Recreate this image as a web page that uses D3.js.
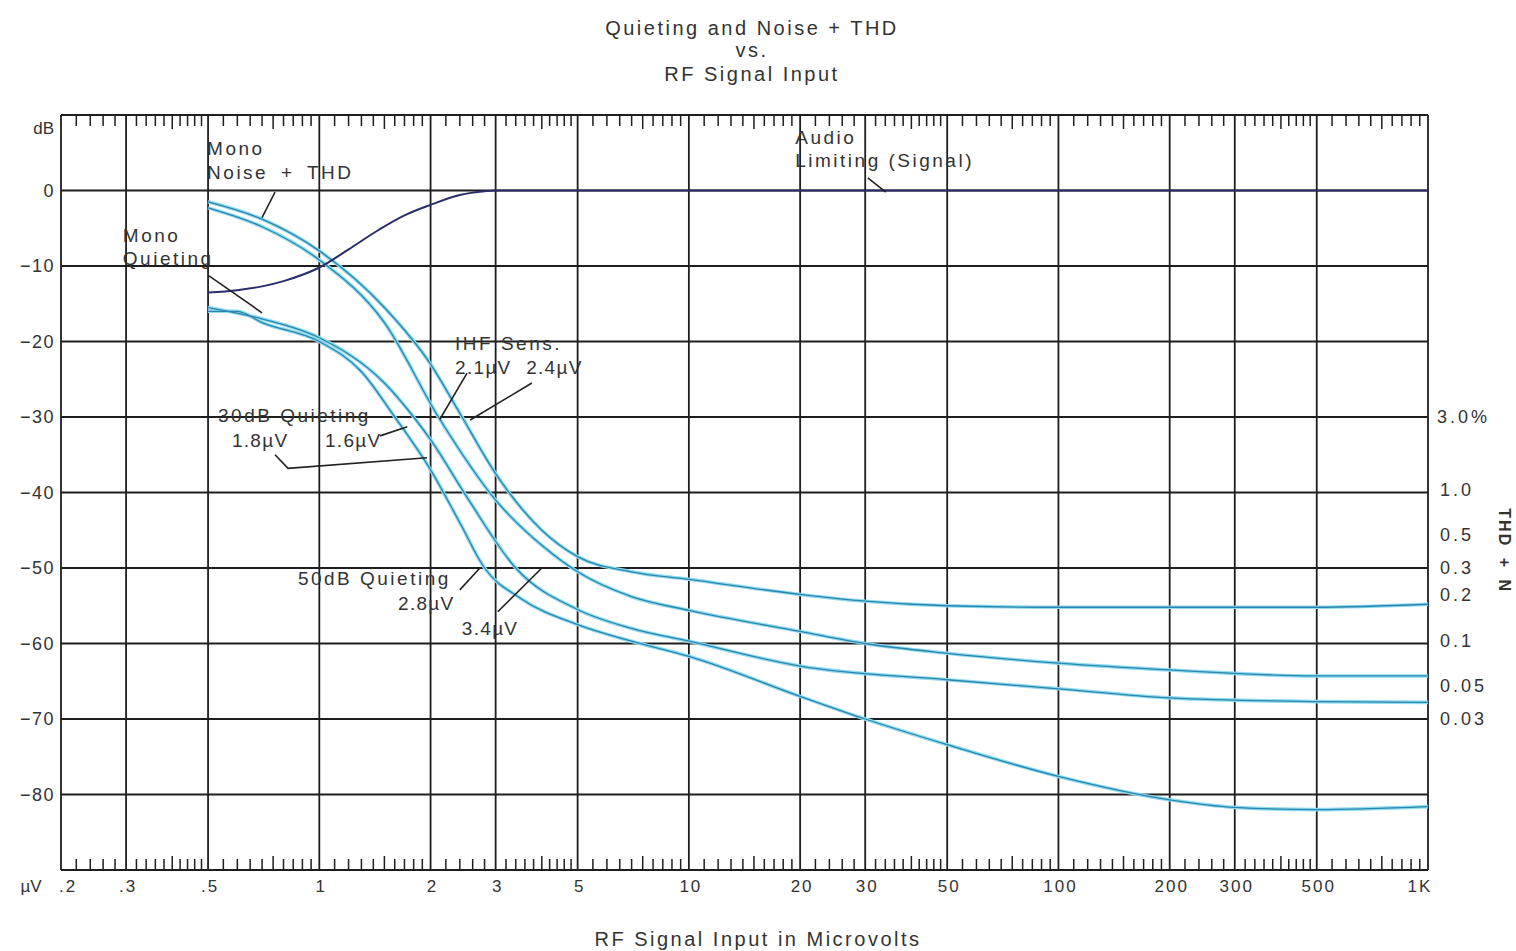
<!DOCTYPE html>
<html>
<head>
<meta charset="utf-8">
<script src="https://cdn.jsdelivr.net/npm/d3@7"></script>
<style>
  html, body { margin: 0; padding: 0; background: #fff; }
  svg text { font-family: "Liberation Sans", Arial, Helvetica, sans-serif; fill: #333; white-space: pre; }
</style>
</head>
<body>
<svg id="chart" width="1516" height="951"></svg>
<script>
// ---------------- DATA ----------------
const xTicks = [0.2, 0.3, 0.5, 1, 2, 3, 5, 10, 20, 30, 50, 100, 200, 300, 500, 1000];
const xTickLabels = [".2", ".3", ".5", "1", "2", "3", "5", "10", "20", "30", "50", "100", "200", "300", "500", "1K"];
const yTicks = [0, -10, -20, -30, -40, -50, -60, -70, -80];
const yTickLabels = ["0", "-10", "-20", "-30", "-40", "-50", "-60", "-70", "-80"];
const thdTicks = [3.0, 1.0, 0.5, 0.3, 0.2, 0.1, 0.05, 0.03];
const thdTickLabels = ["3.0%", "1.0", "0.5", "0.3", "0.2", "0.1", "0.05", "0.03"];

// [µV, dB]
const audioLimiting = [[0.5,-13.5],[0.6,-13.2],[0.7,-12.7],[0.8,-12],[1,-10.2],[1.2,-7.8],[1.45,-5.2],[1.7,-3.3],[2,-1.9],[2.4,-0.6],[2.8,-0.1],[3,0],[10,0],[100,0],[1000,0]];
const noiseTHD_A = [[0.5,-1.5],[0.7,-3.8],[1,-8],[1.5,-15.5],[2,-23],[2.4,-29.5],[3,-37.5],[4,-45],[5,-48.5],[7,-50.5],[10,-51.5],[20,-53.5],[30,-54.4],[50,-55],[100,-55.2],[500,-55.2],[1000,-54.8]];
const noiseTHD_B = [[0.5,-2.3],[0.7,-4.8],[1,-9.2],[1.5,-17.5],[2.1,-30],[3,-41],[4,-47],[5,-50.5],[7,-53.8],[10,-55.6],[20,-58.4],[30,-60],[50,-61.3],[100,-62.6],[200,-63.5],[500,-64.3],[1000,-64.3]];
const quieting_C = [[0.5,-15.5],[0.7,-17],[1,-19.5],[1.5,-25.5],[1.8,-30],[2,-33],[2.5,-40.5],[3.4,-50],[5,-55.5],[7,-58],[10,-59.7],[20,-63],[50,-64.8],[100,-66],[200,-67.2],[500,-67.7],[1000,-67.8]];
const quieting_D = [[0.5,-16],[0.6,-16],[0.7,-17.5],[1,-20],[1.3,-24],[1.6,-30],[2,-37],[2.4,-44],[2.8,-50],[3.5,-54],[5,-57.5],[7,-59.7],[10,-61.7],[20,-67],[30,-70],[50,-73.4],[100,-77.6],[200,-80.7],[300,-81.7],[500,-82],[1000,-81.6]];

// annotation texts: [µV, dB, text]
const annotTexts = [
  [0.497, 4.7, "Mono"], [0.497, 1.5, "Noise + THD"],
  [0.294, -6.8, "Mono"], [0.294, -9.9, "Quieting"],
  [19.4, 6.2, "Audio"], [19.4, 3.1, "Limiting (Signal)"],
  [2.33, -21.1, "IHF Sens."], [2.33, -24.3, "2.1µV 2.4µV"],
  [0.532, -30.7, "30dB Quieting"], [0.58, -34.0, "1.8µV"], [1.036, -34.0, "1.6µV"],
  [0.875, -52.3, "50dB Quieting"], [1.633, -55.6, "2.8µV"], [2.43, -58.9, "3.4µV"]
];
// annotation pointer polylines: [[µV, dB], ...]
const annotPointers = [
  [[0.759,-0.2],[0.70,-3.6]],
  [[0.503,-11.3],[0.70,-16.2]],
  [[30.5,1.66],[34.1,-0.2]],
  [[2.51,-24.2],[2.12,-30.3]],
  [[3.76,-25.5],[2.56,-30.4]],
  [[1.46,-32.5],[1.73,-31.3]],
  [[0.759,-35.0],[0.823,-36.8],[1.956,-35.4]],
  [[2.40,-52.9],[2.72,-50.0]],
  [[3.04,-55.8],[4.0,-50.0]]
];

// ---------------- CHART ----------------
const svg = d3.select("#chart");
const L = 61, R = 1428, T = 115, B = 870;
const x = d3.scaleLog().domain([0.2, 1000]).range([L, R]);
const y = d3.scaleLinear().domain([10, -90]).range([T, B]);
const yThd = p => y(20 * Math.log10(p / 100));

const ink = "#1e1e1e";

// Title
const title = svg.append("g").attr("text-anchor", "middle").style("font-size", "20px").style("letter-spacing", "2.5px");
title.append("text").attr("x", 752).attr("y", 35).text("Quieting and Noise + THD");
title.append("text").attr("x", 752).attr("y", 57).text("vs.");
title.append("text").attr("x", 752).attr("y", 81).text("RF Signal Input");

// Grid
const grid = svg.append("g");
grid.selectAll("line.v").data(xTicks).join("line")
  .attr("x1", d => x(d)).attr("x2", d => x(d)).attr("y1", T).attr("y2", B)
  .attr("stroke", ink).attr("stroke-width", 1.8);
grid.selectAll("line.h").data([10, ...yTicks, -90]).join("line")
  .attr("class", "h")
  .attr("x1", L).attr("x2", R).attr("y1", d => y(d)).attr("y2", d => y(d))
  .attr("stroke", ink).attr("stroke-width", 1.8);

// Ruler minor ticks (top & bottom)
const minor = [];
[0.1, 1, 10, 100].forEach(b => {
  for (let k = 1.1; k < 1.95; k += 0.1) minor.push([b * k, Math.abs(k - 1.5) < 0.01]);
  for (let k = 2.2; k < 2.9; k += 0.2) minor.push([b * k, false]);
  for (let k = 3.2; k < 4.9; k += 0.2) minor.push([b * k, Math.abs(k - 4) < 0.01]);
  for (let k = 5.5; k < 9.6; k += 0.5) minor.push([b * k, Math.abs(k - 7.5) < 0.01]);
});
const minorIn = minor.filter(d => d[0] > 0.2 && d[0] < 1000);
svg.append("g").selectAll("line").data(minorIn).join("line")
  .attr("x1", d => x(d[0])).attr("x2", d => x(d[0]))
  .attr("y1", T).attr("y2", d => T + (d[1] ? 14 : 11))
  .attr("stroke", ink).attr("stroke-width", 1.5);
svg.append("g").selectAll("line").data(minorIn).join("line")
  .attr("x1", d => x(d[0])).attr("x2", d => x(d[0]))
  .attr("y1", B).attr("y2", d => B - (d[1] ? 14 : 11))
  .attr("stroke", ink).attr("stroke-width", 1.5);

// Left axis labels
const leftAx = svg.append("g").style("font-size", "18px").style("letter-spacing", "1.5px").attr("text-anchor", "end");
leftAx.selectAll("text").data(yTicks).join("text")
  .attr("x", 55).attr("y", d => y(d) + 6).text((d, i) => yTickLabels[i].replace("-", "−"));
svg.append("text").attr("x", 54).attr("y", 134).attr("text-anchor", "end").style("font-size", "17px").text("dB");

// Bottom axis labels
const botAx = svg.append("g").style("font-size", "17px").style("letter-spacing", "2px").attr("text-anchor", "middle");
botAx.selectAll("text").data(xTicks).join("text")
  .attr("x", (d, i) => x(d) + (i === 0 ? 7 : i === xTicks.length - 1 ? -8 : 2)).attr("y", 892)
  .text((d, i) => xTickLabels[i]);
svg.append("text").attr("x", 31).attr("y", 892).attr("text-anchor", "middle").style("font-size", "17px").text("µV");
svg.append("text").attr("x", 758).attr("y", 946).attr("text-anchor", "middle")
  .style("font-size", "20px").style("letter-spacing", "2.5px").text("RF Signal Input in Microvolts");

// Right THD+N axis labels
const rightAx = svg.append("g").style("font-size", "18px").style("letter-spacing", "3px").attr("text-anchor", "start");
rightAx.selectAll("text").data(thdTicks).join("text")
  .attr("x", (d, i) => i === 0 ? 1437 : 1440).attr("y", d => yThd(d) + 3)
  .text((d, i) => thdTickLabels[i]);
svg.append("text").attr("transform", `translate(1499, ${y(-47.7)}) rotate(90)`)
  .attr("text-anchor", "middle").style("font-size", "16px").style("font-weight", "bold")
  .style("letter-spacing", "2px").style("word-spacing", "4px").text("THD + N");

// Curves
const line = d3.line().x(d => x(d[0])).y(d => y(d[1])).curve(d3.curveMonotoneX);
const cyanSeries = [noiseTHD_A, noiseTHD_B, quieting_C, quieting_D];
const curves = svg.append("g").attr("fill", "none");
curves.selectAll("path.halo").data(cyanSeries).join("path")
  .attr("d", line).attr("stroke", "#8fdaef").attr("stroke-width", 3.6);
curves.selectAll("path.core").data(cyanSeries).join("path")
  .attr("class", "core")
  .attr("d", line).attr("stroke", "#2a86ad").attr("stroke-width", 1.3);
curves.append("path").datum(audioLimiting).attr("d", line)
  .attr("stroke", "#2b2d6b").attr("stroke-width", 2);

// Annotations
const ann = svg.append("g").style("font-size", "19px");
ann.selectAll("text").data(annotTexts).join("text")
  .attr("x", d => x(d[0])).attr("y", d => y(d[1]))
  .style("letter-spacing", d => d[2].includes("µV") ? "1.3px" : "2.5px")
  .style("word-spacing", d => d[2].includes("+") ? "5px" : d[2].includes("µV ") ? "8px" : "0px")
  .text(d => d[2]);
const pl = d3.line().x(d => x(d[0])).y(d => y(d[1]));
svg.append("g").selectAll("path").data(annotPointers).join("path")
  .attr("d", pl).attr("fill", "none").attr("stroke", "#222").attr("stroke-width", 1.6);
</script>
</body>
</html>
